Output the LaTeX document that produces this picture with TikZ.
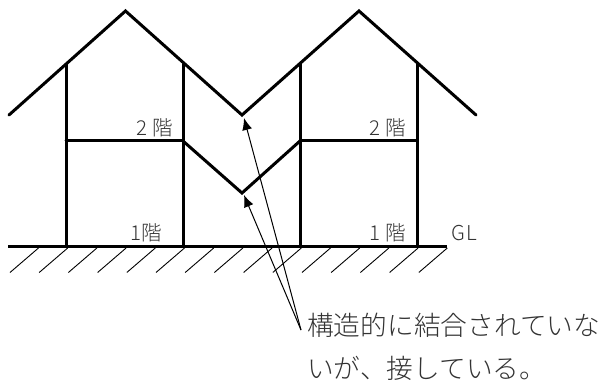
\documentclass[tikz,border=0pt]{standalone}
\usepackage{fontspec}
\setmainfont{Noto Sans CJK JP Light}
\usetikzlibrary{arrows.meta}
\definecolor{txt}{gray}{0.2}
\tikzset{
  wall/.style={line width=3pt,line cap=round,line join=miter,black},
  hatchline/.style={line width=0.9pt,black},
  leader/.style={line width=1pt,black,-{Latex[length=12pt,width=10pt]}},
  lbl/.style={inner sep=0pt,text=txt,font=\fontsize{20.5pt}{22pt}\selectfont,anchor=base east},
  note/.style={inner sep=0pt,text=txt,font=\fontsize{26.7pt}{27pt}\selectfont,anchor=base west}
}
\begin{document}
\begin{tikzpicture}[x=1pt,y=-1pt]
\useasboundingbox (0,0) rectangle (608,385);
\coordinate (roofL) at (9,115);
\coordinate (peakA) at (125.5,11);
\coordinate (valley) at (242,115);
\coordinate (peakB) at (359,11);
\coordinate (roofR) at (476,115);
\coordinate (midL) at (183,141);
\coordinate (midV) at (242,193);
\coordinate (midR) at (300,141);
\draw[wall] (roofL) -- (peakA) -- (valley) -- (peakB) -- (roofR);
\draw[wall] (midL) -- (midV) -- (midR);
\draw[wall] (66,64) -- (66,246);
\draw[wall] (183,64) -- (183,246);
\draw[wall] (300,64) -- (300,246);
\draw[wall] (417,64) -- (417,246);
\draw[wall] (66,141) -- (midL);
\draw[wall] (midR) -- (417,141);
\draw[wall,line cap=butt] (8,246) -- (447,246);
\foreach \i in {0,...,14}{
  \draw[hatchline] ({10+29.2*\i},272.5) -- ({38.5+29.2*\i},248);
}
\node[lbl] at (173,136) {2 階};
\node[lbl] at (162,240) {1階};
\node[lbl] at (406,136) {2 階};
\node[lbl] at (406,240) {1 階};
\node[lbl,anchor=base west] at (451,240) {G\kern1.5pt L};
\coordinate (apex) at (301,330);
\coordinate (tipA) at (244,118);
\coordinate (tipB) at (244,195);
\draw[leader] (apex) -- (tipA);
\draw[leader] (apex) -- (tipB);
\node[note] (n1) at (307,335) {構造的に結合されていな};
\node[note] (n2) at (307,378) {いが、接している。};
\end{tikzpicture}
\end{document}
